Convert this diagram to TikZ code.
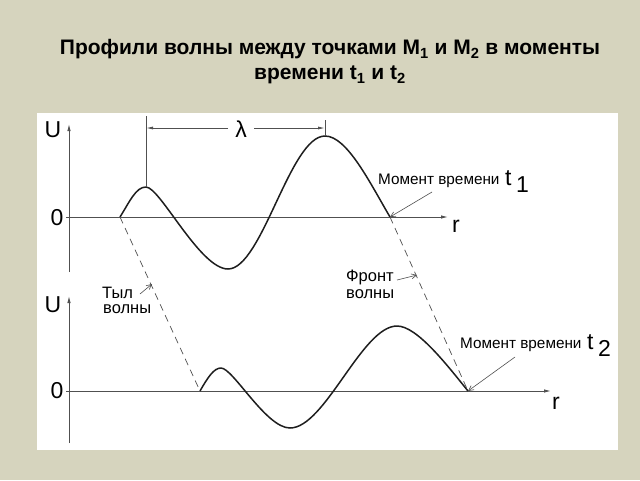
\documentclass[tikz,border=0pt]{standalone}
\usepackage{fontspec}
\setmainfont{Liberation Sans}
\usetikzlibrary{arrows.meta}
\definecolor{bg}{RGB}{214,212,190}
\definecolor{ink}{RGB}{30,30,30}
\definecolor{thin}{RGB}{80,80,80}
\begin{document}
\begin{tikzpicture}[x=1pt,y=-1pt,
  axis/.style={draw=thin, line width=0.9pt, -{Latex[length=7pt,width=3.5pt]}},
  wave/.style={draw=ink, line width=1.5pt, line join=round},
  dimline/.style={draw=thin, line width=0.8pt},
  dimarrow/.style={draw=thin, line width=0.8pt, -{Latex[length=7pt,width=3pt]}},
  pointer/.style={draw=thin, line width=0.6pt, -{Straight Barb[length=5pt,width=5pt]}},
  frontline/.style={draw=thin, line width=0.7pt, dash pattern=on 7pt off 5pt},
  lbl/.style={font=\fontsize{16.5}{18}\selectfont, inner sep=0pt},
  mlbl/.style={font=\fontsize{15.3}{17}\selectfont, inner sep=0pt, anchor=base west},
  big/.style={font=\fontsize{23}{25}\selectfont, inner sep=0pt},
  tlbl/.style={font=\fontsize{23}{25}\selectfont, inner sep=0pt, anchor=base west}]
\fill[bg] (0,0) rectangle (640,480);
\useasboundingbox (0,0) rectangle (640,480);
\fill[white] (37,113) rectangle (618,450);

\node[font=\bfseries\fontsize{21}{25}\selectfont, align=center] (title) at (330,62)
  {Профили волны между точками M\textsubscript{1} и M\textsubscript{2} в моменты\\времени t\textsubscript{1} и t\textsubscript{2}};

% ---- upper graph ----
\coordinate (u1b) at (69,272); \coordinate (u1t) at (69,124);
\coordinate (r1a) at (66,217); \coordinate (r1b) at (448,217);
\draw[axis] (u1b) -- (u1t);
\draw[axis] (r1a) -- (r1b);
\node[big] (U1) at (53,130) {U};
\node[big] (Z1) at (57,218) {0};
\node[big] (R1) at (456,226) {r};

\coordinate (a0) at (120,217);
\coordinate (a1) at (146,187);
\coordinate (a2) at (228,269);
\coordinate (a3) at (325,136);
\coordinate (a4) at (390,217);
\draw[wave] (a0) .. controls (130,201) and (136,187) .. (a1)
  .. controls (160,187) and (200,269) .. (a2)
  .. controls (262,269) and (290,136) .. (a3)
  .. controls (347,136) and (370,183) .. (a4);

% lambda
\coordinate (l1) at (146,116); \coordinate (l2) at (325,120);
\coordinate (la) at (146,128); \coordinate (lb) at (228,128);
\coordinate (lc) at (254,128); \coordinate (ld) at (325,128);
\draw[dimline] (a1) -- (l1);
\draw[dimline] (a3) -- (l2);
\draw[dimarrow] (lb) -- (la);
\draw[dimarrow] (lc) -- (ld);
\node[big] (lam) at (241,129) {λ};

% moment t1
\node[mlbl] (m1) at (378,184) {Момент времени};
\node[tlbl] (t1) at (505,185) {t};
\node[tlbl] (t1s) at (516,192) {1};
\coordinate (p1) at (432,192);
\draw[pointer] (p1) -- (a4);

% ---- lower graph ----
\coordinate (u2b) at (69,443); \coordinate (u2t) at (69,296);
\coordinate (r2a) at (66,391); \coordinate (r2b) at (551,391);
\draw[axis] (u2b) -- (u2t);
\draw[axis] (r2a) -- (r2b);
\node[big] (U2) at (53,305) {U};
\node[big] (Z2) at (57,391) {0};
\node[big] (R2) at (556,403) {r};

\coordinate (b0) at (200,391);
\coordinate (b1) at (221,368);
\coordinate (b2) at (290,428);
\coordinate (b3) at (397,326);
\coordinate (b4) at (468,391);
\draw[wave] (b0) .. controls (208,377) and (214,368) .. (b1)
  .. controls (233,368) and (266,428) .. (b2)
  .. controls (325,428) and (362,326) .. (b3)
  .. controls (417,326) and (447,365) .. (b4);

% wave rear / front lines
\draw[frontline] (a0) -- (b0);
\draw[frontline] (a4) -- (b4);

\node[lbl, anchor=base west] (tyl1) at (102,298) {Тыл};
\node[lbl, anchor=base west] (tyl2) at (103,313) {волны};
\coordinate (q1) at (140,294); \coordinate (q2) at (152,284);
\draw[pointer] (q1) -- (q2);

\node[lbl, anchor=base west] (fr1) at (346,281) {Фронт};
\node[lbl, anchor=base west] (fr2) at (346,298) {волны};
\coordinate (f1) at (397,280); \coordinate (f2) at (417,275);
\draw[pointer] (f1) -- (f2);

\node[mlbl] (m2) at (460,348) {Момент времени};
\node[tlbl] (t2) at (587,349) {t};
\node[tlbl] (t2s) at (598,356) {2};
\coordinate (p2) at (515,357);
\draw[pointer] (p2) -- (b4);
\end{tikzpicture}
\end{document}
